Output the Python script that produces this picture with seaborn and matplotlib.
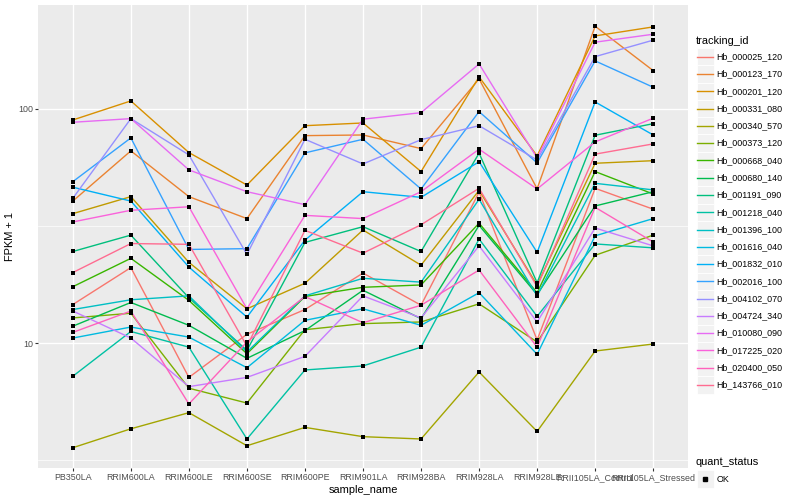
import matplotlib
matplotlib.use("Agg")
import matplotlib.pyplot as plt
import seaborn as sns
import pandas as pd
from matplotlib.patches import Rectangle
from matplotlib.lines import Line2D
from matplotlib.ticker import FixedLocator, NullFormatter

# ---------------- data ----------------
samples = ['PB350LA', 'RRIM600LA', 'RRIM600LE', 'RRIM600SE', 'RRIM600PE',
           'RRIM901LA', 'RRIM928BA', 'RRIM928LA', 'RRIM928LE',
           'RRII105LA_Control', 'RRII105LA_Stressed']

tracking_ids = ['Hb_000025_120', 'Hb_000123_170', 'Hb_000201_120', 'Hb_000331_080',
                'Hb_000340_570', 'Hb_000373_120', 'Hb_000668_040', 'Hb_000680_140',
                'Hb_001191_090', 'Hb_001218_040', 'Hb_001396_100', 'Hb_001616_040',
                'Hb_001832_010', 'Hb_002016_100', 'Hb_004102_070', 'Hb_004724_340',
                'Hb_010080_090', 'Hb_017225_020', 'Hb_020400_050', 'Hb_143766_010']

hb_000025_120 = [14.6, 21.0, 7.13, 10.9, 13.9, 19.9, 14.5, 44.1, 10.3, 45.8, 37.3]
hb_000123_170 = [40.4, 66.2, 42.2, 34.0, 76.9, 77.4, 67.7, 134.4, 45.6, 225.6, 145.8]
hb_000201_120 = [89.7, 108.2, 65.1, 47.3, 84.8, 87.1, 54.0, 137.1, 63.0, 205.1, 224.1]
hb_000331_080 = [35.7, 42.2, 22.1, 14.0, 18.0, 30.4, 21.5, 44.9, 17.7, 58.6, 60.1]
hb_000340_570 = [3.57, 4.30, 5.04, 3.64, 4.36, 3.98, 3.89, 7.52, 4.19, 9.24, 9.9]
hb_000373_120 = [12.8, 13.4, 6.41, 5.54, 11.4, 12.1, 12.3, 14.7, 10.1, 23.7, 28.9]
hb_000668_040 = [17.4, 23.0, 15.2, 9.0, 15.8, 17.3, 17.7, 32.5, 16.4, 54.0, 43.3]
hb_000680_140 = [11.8, 14.9, 11.9, 8.6, 11.3, 16.8, 12.7, 31.8, 16.1, 38.5, 44.3]
hb_001191_090 = [24.6, 28.9, 15.6, 9.3, 26.9, 31.4, 24.6, 64.7, 18.1, 77.2, 86.5]
hb_001218_040 = [7.21, 11.2, 9.6, 3.89, 7.67, 7.98, 9.6, 27.8, 13.0, 26.5, 25.5]
hb_001396_100 = [13.9, 15.3, 15.9, 9.15, 15.9, 18.9, 18.2, 41.1, 15.9, 48.1, 45.1]
hb_001616_040 = [10.5, 11.7, 10.6, 7.84, 12.5, 14.0, 11.9, 16.4, 8.95, 28.7, 34.0]
hb_001832_010 = [46.3, 40.4, 21.1, 12.9, 27.5, 44.3, 41.9, 59.5, 24.4, 107.1, 77.4]
hb_002016_100 = [48.9, 75.2, 25.1, 25.3, 64.9, 74.2, 45.5, 97.4, 58.8, 160.4, 123.8]
hb_004102_070 = [41.5, 90.9, 63.6, 23.9, 74.2, 58.2, 73.9, 84.8, 60.5, 167.3, 196.7]
hb_004724_340 = [13.7, 10.5, 6.51, 7.13, 8.77, 15.9, 12.8, 26.0, 12.3, 31.0, 26.0]
hb_010080_090 = [87.7, 90.9, 54.9, 44.3, 39.0, 90.4, 96.4, 155.7, 61.7, 192.8, 208.5]
hb_017225_020 = [32.9, 36.9, 38.2, 14.0, 35.1, 34.0, 44.3, 67.3, 45.5, 72.3, 91.3]
hb_020400_050 = [11.1, 13.7, 5.49, 10.1, 15.8, 12.2, 14.5, 20.5, 9.6, 38.0, 27.0]
hb_143766_010 = [20.0, 26.6, 26.4, 9.7, 30.3, 24.2, 32.0, 45.8, 17.4, 64.1, 70.9]

series_values = [hb_000025_120, hb_000123_170, hb_000201_120, hb_000331_080,
                 hb_000340_570, hb_000373_120, hb_000668_040, hb_000680_140,
                 hb_001191_090, hb_001218_040, hb_001396_100, hb_001616_040,
                 hb_001832_010, hb_002016_100, hb_004102_070, hb_004724_340,
                 hb_010080_090, hb_017225_020, hb_020400_050, hb_143766_010]

quant_status = ['OK']

y_ticks = [10, 100]
y_tick_labels = ['10', '100']

palette = ['#F8766D', '#EA8331', '#D89000', '#C09B00', '#A3A500', '#7CAE00',
           '#39B600', '#00BB4E', '#00BF7D', '#00C1A3', '#00BFC4', '#00BAE0',
           '#00B0F6', '#35A2FF', '#9590FF', '#C77CFF', '#E76BF3', '#FA62DB',
           '#FF62BC', '#FF6C91']

rows = []
for tid, vals in zip(tracking_ids, series_values):
    for s, v in zip(samples, vals):
        rows.append({'tracking_id': tid, 'sample_name': s, 'fpkm1': v,
                     'quant_status': quant_status[0]})
df = pd.DataFrame(rows)
df['sample_name'] = pd.Categorical(df['sample_name'], categories=samples, ordered=True)
df['xpos'] = df['sample_name'].cat.codes

# ---------------- figure ----------------
plt.rcParams['font.family'] = ['Liberation Sans', 'DejaVu Sans']
W, H = 800, 500
fig = plt.figure(figsize=(8, 5), dpi=100)
fig.patch.set_facecolor('white')
px_l, px_r, px_t, px_b = 38, 688, 5, 468
ax = fig.add_axes([px_l / W, 1 - px_b / H, (px_r - px_l) / W, (px_b - px_t) / H])
ax.set_facecolor('#EBEBEB')

sns.lineplot(data=df, x='xpos', y='fpkm1', hue='tracking_id',
             hue_order=tracking_ids, palette=palette, estimator=None,
             sort=False, units='tracking_id', linewidth=1.0, legend=False, ax=ax,
             zorder=2)
sns.scatterplot(data=df, x='xpos', y='fpkm1', color='black', marker='s',
                s=7, linewidth=0, legend=False, ax=ax, zorder=3)

ax.set_yscale('log')
ax.set_ylim(10 ** 0.466, 10 ** 2.444)
ax.set_xlim(-0.6, len(samples) - 0.4)
ax.yaxis.set_major_locator(FixedLocator(y_ticks))
ax.set_yticklabels(y_tick_labels)
ax.yaxis.set_minor_locator(FixedLocator([10 ** 0.5, 10 ** 1.5, 10 ** 2.5]))
ax.yaxis.set_minor_formatter(NullFormatter())
ax.set_xticks(range(len(samples)))
ax.set_xticklabels(samples)

ax.grid(which='major', color='white', linewidth=1.0)
ax.grid(which='minor', axis='y', color='white', linewidth=0.5)
ax.set_axisbelow(True)
for sp in ax.spines.values():
    sp.set_visible(False)
ax.tick_params(which='major', length=2.0, width=0.8, color='#333333',
               labelcolor='#4D4D4D', labelsize=6.4, pad=1.5)
ax.tick_params(which='minor', length=0)

ax.set_xlabel('sample_name', fontsize=7.9, color='black', labelpad=2)
ax.set_ylabel('FPKM + 1', fontsize=7.9, color='black', labelpad=2.5)

# ---------------- legend (ggplot-style, drawn in figure pixels) ----------------
def fx(x):
    return x / W

def fy(y):
    return 1 - y / H

key = 17.28
kx = 696.5
fig.text(fx(696), fy(40.7), 'tracking_id', fontsize=7.9, ha='left', va='center')
for i, (tid, col) in enumerate(zip(tracking_ids, palette)):
    cy = 56.7 + i * key
    fig.patches.append(Rectangle((fx(kx), fy(cy + key / 2)), key / W, key / H,
                                 transform=fig.transFigure, facecolor='#F2F2F2',
                                 edgecolor='white', linewidth=0.6))
    fig.lines.append(Line2D([fx(kx + 0.8), fx(kx + key - 0.8)], [fy(cy), fy(cy)],
                            transform=fig.transFigure, color=col, linewidth=1.0))
    fig.text(fx(716.5), fy(cy), tid, fontsize=6.4, ha='left', va='center')

qy_title = 462
qy_key = 479
fig.text(fx(696), fy(qy_title), 'quant_status', fontsize=7.9, ha='left', va='center')
fig.patches.append(Rectangle((fx(kx), fy(qy_key + key / 2)), key / W, key / H,
                             transform=fig.transFigure, facecolor='#F2F2F2',
                             edgecolor='white', linewidth=0.6))
fig.lines.append(Line2D([fx(kx + key / 2)], [fy(qy_key)], transform=fig.transFigure,
                        color='black', marker='s', markersize=2.8, linestyle='none'))
fig.text(fx(716.5), fy(qy_key), quant_status[0], fontsize=6.4, ha='left', va='center')

fig.savefig('out.png', dpi=100, facecolor='white')
